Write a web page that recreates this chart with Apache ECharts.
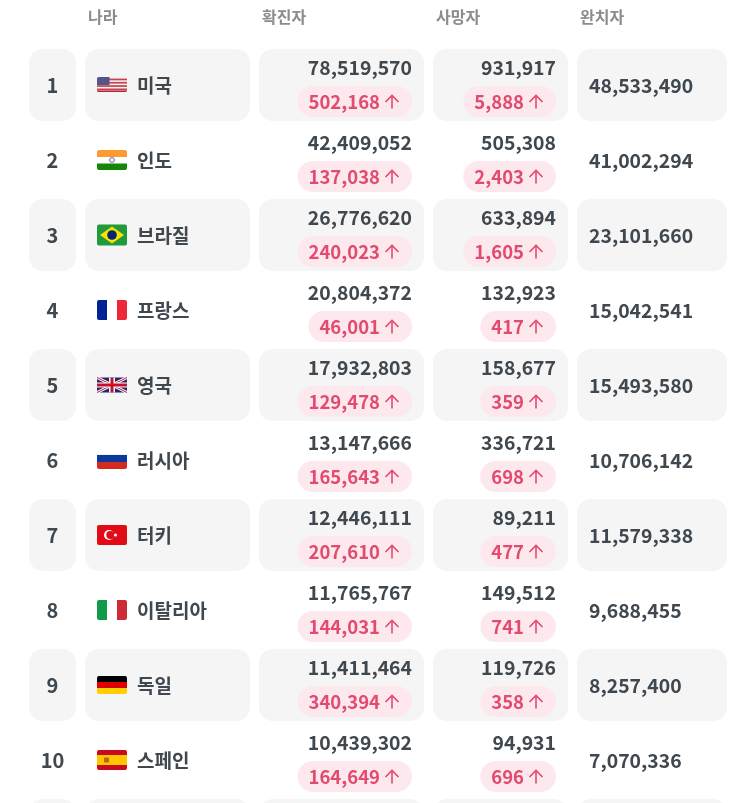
<!DOCTYPE html>
<html>
<head>
<meta charset="utf-8">
<style>
html, body { margin: 0; background: #fff; }
#main { width: 734px; height: 803px; }
</style>
<script src="https://cdn.jsdelivr.net/npm/echarts@6/dist/echarts.min.js"></script>
</head>
<body>
<div id="main"></div>
<script>
// 표 데이터
var headers = ['나라', '확진자', '사망자', '완치자'];
var ranks = [1, 2, 3, 4, 5, 6, 7, 8, 9, 10];
var countries = ['미국', '인도', '브라질', '프랑스', '영국', '러시아', '터키', '이탈리아', '독일', '스페인'];
var flags = ['us', 'in', 'br', 'fr', 'gb', 'ru', 'tr', 'it', 'de', 'es'];
var confirmed = [78519570, 42409052, 26776620, 20804372, 17932803, 13147666, 12446111, 11765767, 11411464, 10439302];
var confirmedNew = [502168, 137038, 240023, 46001, 129478, 165643, 207610, 144031, 340394, 164649];
var deaths = [931917, 505308, 633894, 132923, 158677, 336721, 89211, 149512, 119726, 94931];
var deathsNew = [5888, 2403, 1605, 417, 359, 698, 477, 741, 358, 696];
var recovered = [48533490, 41002294, 23101660, 15042541, 15493580, 10706142, 11579338, 9688455, 8257400, 7070336];

var FONT = '"Noto Sans CJK KR", "Noto Sans", sans-serif';
var INK = '#3f474f';
var CARD = '#f5f5f5';
var PILL = '#fde8ee';
var RED = '#e24a6e';

// 칸 위치
var colRank = [29, 76];
var colName = [85, 250];
var colConf = [259, 424];
var colDeath = [433, 568];
var colRec = [577, 727];

function fmt(n) {
    return n.toLocaleString('en-US');
}

function card(col, cy) {
    return {
        type: 'rect',
        shape: { x: col[0], y: cy - 36, width: col[1] - col[0], height: 72, r: 14 },
        style: { fill: CARD }
    };
}

function label(text, x, y, align, size, color) {
    return {
        type: 'text',
        style: {
            text: text, x: x, y: y, align: align, verticalAlign: 'middle',
            font: '700 ' + size + 'px ' + FONT, fill: color
        }
    };
}

// 증가분 알약 + 위쪽 화살표
function pill(value, right, y) {
    var ax = right - 20;
    return [{
        type: 'text',
        style: {
            text: fmt(value),
            x: right, y: y, align: 'right', verticalAlign: 'middle',
            font: '700 18.5px ' + FONT, fill: RED,
            backgroundColor: PILL, borderRadius: 16, padding: [5, 32, 5, 11], lineHeight: 21
        }
    }, {
        type: 'polyline',
        shape: { points: [[ax - 6.5, y + 0.5], [ax, y - 6], [ax + 6.5, y + 0.5]] },
        style: { fill: null, stroke: RED, lineWidth: 1.6 }
    }, {
        type: 'line',
        shape: { x1: ax, y1: y - 6, x2: ax, y2: y + 7 },
        style: { stroke: RED, lineWidth: 1.6 }
    }];
}

function r(x, y, w, h, fill, radius) {
    return { type: 'rect', shape: { x: x, y: y, width: w, height: h, r: radius || 0 }, style: { fill: fill } };
}

function flagShapes(code, x, cy) {
    var y, s = [];
    if (code == 'us') {
        y = cy - 8;
        s.push(r(x, y, 30, 15, '#f6f0f2', 2));
        for (var i = 0; i < 4; i++) s.push(r(x, y + 1.6 + i * 3.3, 30, 1.7, '#c4434f'));
        s.push(r(x, y + 13.4, 30, 1.6, '#b22234', [0, 0, 2, 2]));
        s.push(r(x, y, 12.5, 8, '#55558a', [2, 0, 0, 0]));
    } else if (code == 'in') {
        y = cy - 10;
        s.push(r(x, y, 30, 7, '#ff9933', [2, 2, 0, 0]));
        s.push(r(x, y + 7, 30, 7, '#ffffff'));
        s.push(r(x, y + 13.5, 30, 6.5, '#138808', [0, 0, 2, 2]));
        s.push({ type: 'circle', shape: { cx: x + 15, cy: cy, r: 2.4 }, style: { fill: '#fff', stroke: '#6a5fb0', lineWidth: 1 } });
    } else if (code == 'br') {
        s.push(r(x, cy - 10.5, 30, 21, '#1f9a3c', 2));
        s.push({ type: 'polygon', shape: { points: [[x + 15, cy - 8.5], [x + 27, cy], [x + 15, cy + 8.5], [x + 3, cy]] }, style: { fill: '#fedf00' } });
        s.push({ type: 'circle', shape: { cx: x + 15, cy: cy, r: 4.8 }, style: { fill: '#002776' } });
    } else if (code == 'fr') {
        y = cy - 10;
        s.push(r(x, y, 10, 20, '#002395', [2, 0, 0, 2]));
        s.push(r(x + 20, y, 10, 20, '#ed2939', [0, 2, 2, 0]));
    } else if (code == 'gb') {
        y = cy - 7.5;
        s.push(r(x, y, 30, 15, '#1f2a6b'));
        s.push({ type: 'line', shape: { x1: x, y1: y, x2: x + 30, y2: y + 15 }, style: { stroke: '#fff', lineWidth: 3 } });
        s.push({ type: 'line', shape: { x1: x + 30, y1: y, x2: x, y2: y + 15 }, style: { stroke: '#fff', lineWidth: 3 } });
        s.push({ type: 'line', shape: { x1: x, y1: y, x2: x + 30, y2: y + 15 }, style: { stroke: '#c8102e', lineWidth: 1 } });
        s.push({ type: 'line', shape: { x1: x + 30, y1: y, x2: x, y2: y + 15 }, style: { stroke: '#c8102e', lineWidth: 1 } });
        s.push(r(x + 12, y, 6, 15, '#fff'));
        s.push(r(x, y + 5, 30, 5, '#fff'));
        s.push(r(x + 13.5, y, 3, 15, '#c8102e'));
        s.push(r(x, y + 6, 30, 3, '#c8102e'));
    } else if (code == 'ru') {
        y = cy - 5;
        s.push(r(x, y - 0.5, 30, 1, '#dfe6f2'));
        s.push(r(x, y, 30, 7, '#0a3a9e'));
        s.push(r(x, y + 7, 30, 7, '#d52b1e', [0, 0, 2, 2]));
    } else if (code == 'tr') {
        s.push(r(x, cy - 10, 30, 20, '#e30a17', 2));
        s.push({ type: 'circle', shape: { cx: x + 12, cy: cy, r: 5 }, style: { fill: '#fff' } });
        s.push({ type: 'circle', shape: { cx: x + 13.3, cy: cy, r: 4 }, style: { fill: '#e30a17' } });
        s.push({ type: 'circle', shape: { cx: x + 18.5, cy: cy, r: 1.6 }, style: { fill: '#fff' } });
    } else if (code == 'it') {
        y = cy - 10;
        s.push(r(x, y, 10, 20, '#129a4b', [2, 0, 0, 2]));
        s.push(r(x + 20, y, 10, 20, '#ce2b37', [0, 2, 2, 0]));
    } else if (code == 'de') {
        y = cy - 9;
        s.push(r(x, y, 30, 6, '#000', [2, 2, 0, 0]));
        s.push(r(x, y + 6, 30, 6, '#dd0000'));
        s.push(r(x, y + 12, 30, 6, '#ffce00', [0, 0, 2, 2]));
    } else if (code == 'es') {
        y = cy - 10;
        s.push(r(x, y, 30, 5, '#c60b1e', [2, 2, 0, 0]));
        s.push(r(x, y + 5, 30, 10, '#ffc400'));
        s.push(r(x, y + 15, 30, 5, '#c60b1e', [0, 0, 2, 2]));
        s.push(r(x + 7, cy - 2.5, 5, 5, '#b5651d', 1));
    }
    return s;
}

function renderRow(params, api) {
    var i = api.value(0);
    var cy = api.coord([0, i])[1];
    var kids = [];
    // 홀수 줄만 회색 배경
    if (i % 2 == 0) {
        kids.push(card(colRank, cy), card(colName, cy), card(colConf, cy), card(colDeath, cy), card(colRec, cy));
    }
    if (i < countries.length) {
        kids.push(label(String(ranks[i]), (colRank[0] + colRank[1]) / 2, cy, 'center', 20, INK));
        kids = kids.concat(flagShapes(flags[i], 97, cy));
        kids.push(label(countries[i], 137, cy + 0.5, 'left', 19, INK));
        kids.push(label(fmt(confirmed[i]), 412, cy - 17, 'right', 19.4, INK));
        kids = kids.concat(pill(confirmedNew[i], 412, cy + 16.5));
        kids.push(label(fmt(deaths[i]), 556, cy - 17, 'right', 19.4, INK));
        kids = kids.concat(pill(deathsNew[i], 556, cy + 16.5));
        kids.push(label(fmt(recovered[i]), 589, cy + 0.5, 'left', 19.4, INK));
    }
    return { type: 'group', children: kids };
}

var myChart = echarts.init(document.getElementById('main'));

var headerX = [88, 262, 436, 580];

// 11번째 줄은 화면 아래로 잘려서 배경만 보인다
var rowIndex = [];
ranks.forEach(function (d, i) { rowIndex.push([i]); });
rowIndex.push([ranks.length]);

var option = {
    animation: false,
    backgroundColor: '#fff',
    grid: { left: 0, top: 47.5, width: 734, height: 750 },
    xAxis: { type: 'value', min: 0, max: 734, show: false },
    yAxis: { type: 'value', inverse: true, min: -0.5, max: 9.5, show: false },
    graphic: headers.map(function (h, i) {
        return {
            type: 'text', left: headerX[i], top: 9,
            style: { text: h, font: '700 16px ' + FONT, fill: '#8c8c8c' }
        };
    }),
    series: [{
        type: 'custom',
        clip: false,
        renderItem: renderRow,
        encode: { y: 0 },
        data: rowIndex
    }]
};

myChart.setOption(option);
</script>
</body>
</html>
